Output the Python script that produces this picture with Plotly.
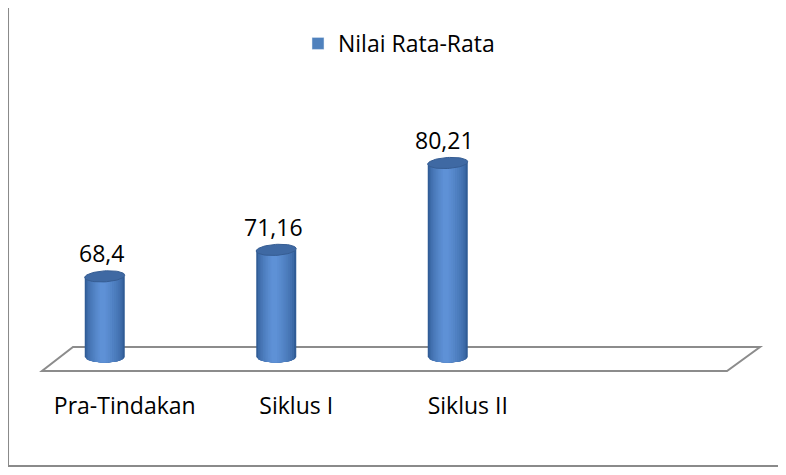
import numpy as np
import plotly.graph_objects as go

# ---------------- data ----------------
categories = ["Pra-Tindakan", "Siklus I", "Siklus II", ""]
series_name = "Nilai Rata-Rata"
values = [68.4, 71.16, 80.21]
label_texts = ["68,4", "71,16", "80,21"]

# ---------------- geometry (screen pixels of the 786x475 window) ----------------
PAGE_OFF = 8                      # default body margin of the html page
WIN_W, WIN_H = 786, 475
FIG_W, FIG_H = WIN_W - 2 * PAGE_OFF, WIN_H - 2 * PAGE_OFF
PLOT_L, PLOT_R = 19, 705          # x=-0.5 .. 3.5   (screen px)
PLOT_T, PLOT_B = 100, 380         # screen px
BASE = 60.0                       # value axis minimum (floor)
PX_PER_UNIT = 9.6
BASE_PX = 357
y_lo = BASE - (PLOT_B - BASE_PX) / PX_PER_UNIT
y_hi = BASE + (BASE_PX - PLOT_T) / PX_PER_UNIT
px_per_x = (PLOT_R - PLOT_L) / 4.0

def px_to_paper(px, py):
    return (px - PLOT_L) / (PLOT_R - PLOT_L), (PLOT_B - py) / (PLOT_B - PLOT_T)

BAR_W = 40 / px_per_x             # cylinder width in x units
ELL_B = 5.5 / PX_PER_UNIT         # half height of ellipses in value units

dark = np.array([0x30, 0x5c, 0x96])
light = np.array([0x5e, 0x91, 0xd6])
def hexc(c):
    return "#%02x%02x%02x" % tuple(int(round(v)) for v in c)

x_idx = list(range(len(values)))
fig = go.Figure()

n_layers = 10
hc = 0.45  # horizontal position of highlight in the cylinder
for i in range(n_layers):
    frac = 1 - 0.85 * i / (n_layers - 1)
    w = BAR_W * frac
    cfrac = 0.5 + (hc - 0.5) * (1 - frac) / 0.85
    off = (cfrac - 0.5) * BAR_W - w / 2
    t = (i / (n_layers - 1)) ** 0.6
    col = hexc(dark + (light - dark) * t)
    fig.add_trace(go.Bar(
        x=x_idx, y=[v - BASE for v in values], base=BASE,
        width=w, offset=off,
        marker=dict(color=col, line=dict(width=0)),
        showlegend=False, hoverinfo="skip", name=series_name,
    ))
    # rounded bottom part of this layer (clipped ellipse below the floor line)
    for xi in x_idx:
        xl = xi + off
        xr = xi + off + w
        xs = np.linspace(xl, xr, 30)
        ys = BASE - ELL_B * np.sqrt(np.clip(1 - ((xs - xi) / (BAR_W / 2)) ** 2, 0, 1))
        px_ = np.concatenate([[xl], xs, [xr]])
        py_ = np.concatenate([[BASE + 0.01], ys, [BASE + 0.01]])
        fig.add_trace(go.Scatter(
            x=px_, y=py_, mode="lines", fill="toself", fillcolor=col,
            line=dict(width=0, color=col), showlegend=False, hoverinfo="skip",
        ))

# top ellipses
th = np.linspace(0, 2 * np.pi, 60)
for xi, v in zip(x_idx, values):
    ex = xi + (BAR_W / 2) * np.cos(th)
    ey = v + ELL_B * np.sin(th) + 0.12 * ((ex - xi) / (BAR_W / 2))
    fig.add_trace(go.Scatter(
        x=ex, y=ey, mode="lines", fill="toself", fillcolor="#3f69a3",
        line=dict(width=1, color="#365d93"), showlegend=False, hoverinfo="skip",
    ))

# legend entry
fig.add_trace(go.Bar(x=[None], y=[None], name=series_name,
                     marker=dict(color="#4f81bd"), showlegend=True))

# value labels
for xi, v, txt in zip(x_idx, values, label_texts):
    fig.add_annotation(x=xi, y=v, text=txt, showarrow=False, yshift=23, xshift=-3,
                       font=dict(family="Open Sans", size=23, color="#000000"))

# floor (3D base plane)
corners = [(42, 371), (727, 371), (760, 347), (73, 347)]
pc = [px_to_paper(*c) for c in corners]
path = "M " + " L ".join(f"{x:.4f},{y:.4f}" for x, y in pc) + " Z"
fig.add_shape(type="path", path=path, xref="paper", yref="paper",
              line=dict(color="#8c8c8c", width=2), fillcolor="rgba(255,255,255,0)",
              layer="below")

# chart border: left, top and bottom edges (right edge lies outside the window)
border_pts = [(900, 2), (8, 2), (8, 466), (900, 466)]
bp = [px_to_paper(*c) for c in border_pts]
bpath = "M " + " L ".join(f"{x:.4f},{y:.4f}" for x, y in bp)
fig.add_shape(type="path", path=bpath, xref="paper", yref="paper",
              line=dict(color="#8a8a8a", width=2), layer="below")

lx, ly = px_to_paper(298, 22)
fig.update_layout(
    width=FIG_W, height=FIG_H,
    margin=dict(l=PLOT_L - PAGE_OFF, r=FIG_W - (PLOT_R - PAGE_OFF),
                t=PLOT_T - PAGE_OFF, b=FIG_H - (PLOT_B - PAGE_OFF)),
    paper_bgcolor="white", plot_bgcolor="white",
    barmode="overlay",
    font=dict(family="Open Sans", size=23, color="#000000"),
    showlegend=True,
    legend=dict(orientation="h", x=lx, y=ly, xanchor="left", yanchor="top",
                font=dict(family="Open Sans", size=23, color="#000000"),
                bgcolor="rgba(0,0,0,0)", itemwidth=30),
    xaxis=dict(range=[-0.5, 3.5], tickvals=list(range(len(categories))), ticktext=categories,
               showgrid=False, zeroline=False, showline=False, ticks="",
               ticklabelshift=20, ticklabelstandoff=10,
               tickfont=dict(family="Open Sans", size=23, color="#000000"), fixedrange=True),
    yaxis=dict(range=[y_lo, y_hi], visible=False, fixedrange=True),
)

fig.write_html("out.html")
